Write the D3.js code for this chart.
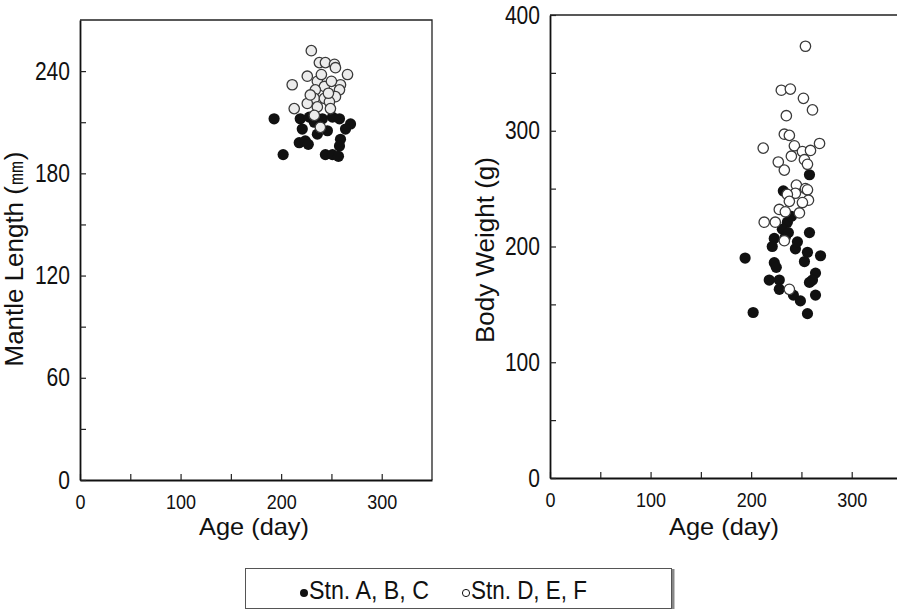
<!DOCTYPE html>
<html><head><meta charset="utf-8">
<script src="https://cdn.jsdelivr.net/npm/d3@7/dist/d3.min.js"></script>
<style>body{margin:0;background:#fff}svg{display:block}</style>
</head><body>
<svg id="c" width="897" height="610"></svg>
<script>
// ---- Data ----
const mlFilledAge = [193,202,219,228,221,218,224,227,241,251,258,269,264,259,258,244,251,257,233,246,236];
const mlFilledVal = [212,191,212,213,206,198,199,197,212,213,212,209,206,200,196,191,191,190,210,205,203];
const mlOpenAge = [230,238,244,253,254,226,211,266,236,243,234,259,258,233,243,254,226,248,213,236,249,233,239,247,229,240,250];
const mlOpenVal = [252,245,245,244,242,237,232,238,234,231,229,232,229,224,224,225,221,222,218,219,218,214,207,227,226,238,234];
const bwFilledAge = [258,232,236,231,237,258,223,221,244,256,269,253,194,223,225,264,261,258,218,228,228,242,249,264,202,256,240,246,234];
const bwFilledVal = [262,248,221,215,212,212,207,200,198,195,192,187,190,186,182,177,171,169,171,171,163,158,153,158,143,142,226,204,208];
const bwOpenAge = [254,230,239,252,261,235,233,238,212,243,268,251,259,240,253,227,233,256,245,254,256,244,236,257,251,238,228,234,248,213,224,233,238];
const bwOpenVal = [373,335,336,328,318,313,297,296,285,287,289,282,283,278,275,273,266,271,253,250,249,246,245,240,238,239,232,230,229,221,221,205,163];
const xTicks = [0,50,100,150,200,250,300];
const xLabels = [0,100,200,300];
const mlTicks = [0,30,60,90,120,150,180,210,240];
const mlLabels = [0,60,120,180,240];
const bwTicks = [0,50,100,150,200,250,300,350,400];
const bwLabels = [0,100,200,300,400];
const legendLabels = ["Stn. A, B, C", "Stn. D, E, F"];

const svg = d3.select("#c");
svg.append("rect").attr("width",897).attr("height",610).attr("fill","#fff");
const FONT = "'Liberation Sans Narrow','Liberation Sans',Arial,sans-serif";

function panel(opt){
  const g = svg.append("g");
  const x = d3.scaleLinear().domain([0,350]).range([opt.x0, opt.x0+352]);
  const y = d3.scaleLinear().domain([0,opt.ymax]).range([opt.yb, opt.yt]);
  g.append("path")
    .attr("d", `M${x(0)},${y(opt.ymax)}H${x(350)}V${y(0)}`)
    .attr("fill","none").attr("stroke","#222").attr("stroke-width",1.3);
  const xa = g.append("g").attr("transform",`translate(0,${y(0)})`)
    .call(d3.axisBottom(x).tickValues(xTicks).tickSizeInner(-6).tickSizeOuter(0).tickPadding(14)
      .tickFormat(d=> xLabels.includes(d)? d : ""));
  const ya = g.append("g").attr("transform",`translate(${x(0)},0)`)
    .call(d3.axisLeft(y).tickValues(opt.ticks).tickSizeInner(-6).tickSizeOuter(0).tickPadding(10)
      .tickFormat(d=> opt.labels.includes(d)? d : ""));
  [xa,ya].forEach(a=>{
    a.select(".domain").attr("stroke","#111").attr("stroke-width",1.8);
    a.selectAll(".tick line").attr("stroke","#222").attr("stroke-width",1.2);
    a.selectAll("text").attr("fill","#111").attr("font-family",FONT).attr("lengthAdjust","spacingAndGlyphs");
  });
  xa.selectAll("text").attr("font-size",21)
    .attr("textLength",function(){ const n=this.textContent.length; return n? n*10 : null; });
  ya.selectAll("text").attr("font-size",25)
    .attr("textLength",function(){ const n=this.textContent.length; return n? n*11.7 : null; });
  g.append("text").attr("x",(x(0)+x(350))/2-2).attr("y",535)
    .attr("text-anchor","middle").attr("font-family",FONT).attr("font-size",24).attr("fill","#111")
    .attr("textLength",110).attr("lengthAdjust","spacingAndGlyphs").text("Age (day)");
  g.append("text").attr("transform",`translate(${opt.lx},${opt.ly}) rotate(-90)`)
    .attr("text-anchor","middle").attr("font-family",FONT).attr("font-size",25).attr("fill","#111")
    .attr("textLength",opt.llen).attr("lengthAdjust","spacingAndGlyphs").text(opt.title);
  const clip = "clip"+opt.id;
  g.append("clipPath").attr("id",clip).append("rect")
    .attr("x",x(0)).attr("y",y(opt.ymax)).attr("width",x(350)-x(0)).attr("height",y(0)-y(opt.ymax));
  const pts = g.append("g").attr("clip-path",`url(#${clip})`);
  pts.selectAll("circle.f").data(d3.zip(opt.fa,opt.fv)).join("circle").attr("class","f")
    .attr("cx",d=>x(d[0])).attr("cy",d=>y(d[1])).attr("r",5.6).attr("fill","#111");
  pts.selectAll("circle.o").data(d3.zip(opt.oa,opt.ov)).join("circle").attr("class","o")
    .attr("cx",d=>x(d[0])).attr("cy",d=>y(d[1])).attr("r",5.2)
    .attr("fill",opt.ofill).attr("stroke","#3a3a3a").attr("stroke-width",1.3);
}

panel({id:"a", x0:80, yb:480, yt:20, ymax:270, ticks:mlTicks, labels:mlLabels,
  fa:mlFilledAge, fv:mlFilledVal, oa:mlOpenAge, ov:mlOpenVal, ofill:"#ececec",
  title:"Mantle Length (㎜)", lx:23, ly:259, llen:215});
panel({id:"b", x0:550, yb:478, yt:15, ymax:400, ticks:bwTicks, labels:bwLabels,
  fa:bwFilledAge, fv:bwFilledVal, oa:bwOpenAge, ov:bwOpenVal, ofill:"#fff",
  title:"Body Weight (g)", lx:494, ly:250, llen:186});

// legend
const lg = svg.append("g");
lg.append("line").attr("x1",673).attr("x2",673).attr("y1",569).attr("y2",609)
  .attr("stroke","#888").attr("stroke-width",3);
lg.append("rect").attr("x",245.5).attr("y",568.5).attr("width",426).attr("height",40)
  .attr("fill","#fff").attr("stroke","#555").attr("stroke-width",1);
const items = [{x:300, filled:true, len:120},{x:462, filled:false, len:116}];
items.forEach((it,i)=>{
  lg.append("circle").attr("cx",it.x+4).attr("cy",593).attr("r",it.filled?4:3.6)
    .attr("fill",it.filled?"#111":"#fff").attr("stroke","#111").attr("stroke-width",it.filled?0:1);
  lg.append("text").attr("x",it.x+9).attr("y",599).attr("font-family",FONT).attr("font-size",25)
    .attr("fill","#111").attr("textLength",it.len).attr("lengthAdjust","spacingAndGlyphs").text(legendLabels[i]);
});
</script>
</body></html>
